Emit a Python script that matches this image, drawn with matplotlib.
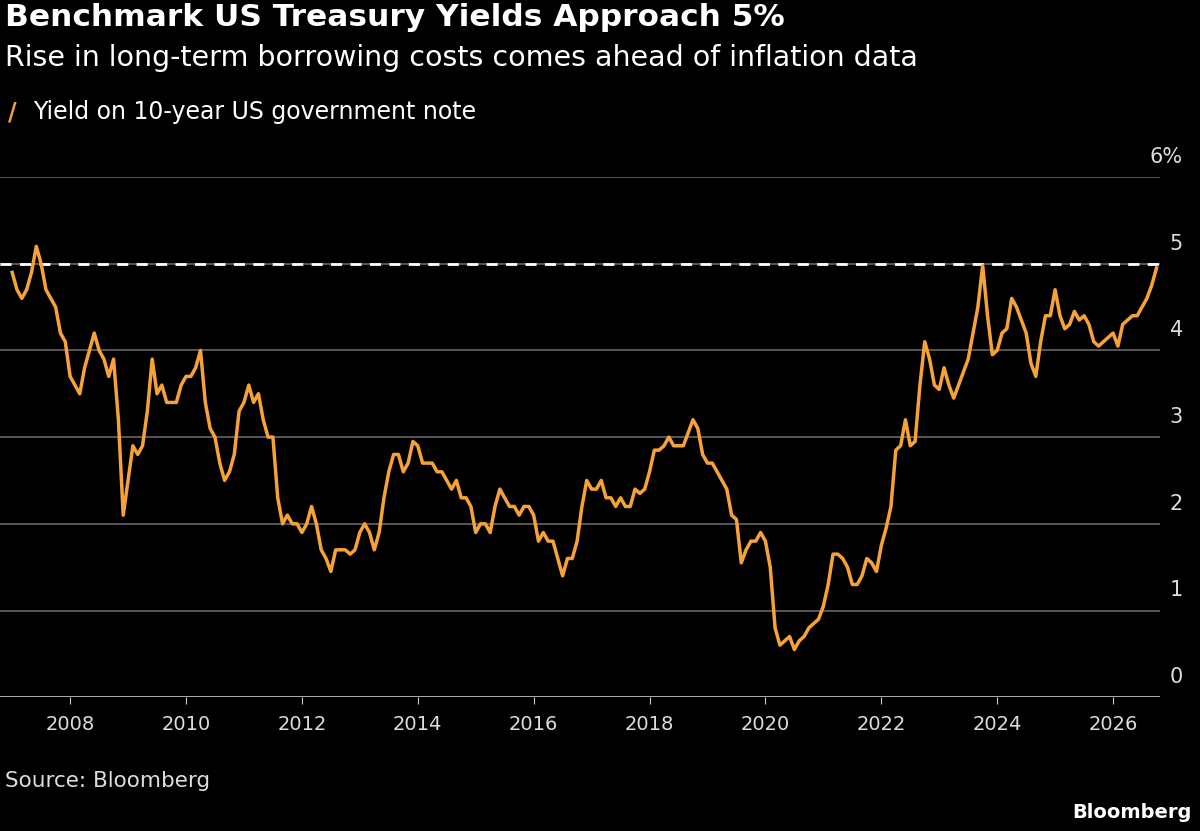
import matplotlib
matplotlib.use("Agg")
import matplotlib.pyplot as plt
import numpy as np

y2007=[4.9,4.7,4.6,4.7,4.9,5.2,5.0,4.7,4.6,4.5,4.2,4.1]
y2008=[3.7,3.6,3.5,3.8,4.0,4.2,4.0,3.9,3.7,3.9,3.2,2.1]
y2009=[2.5,2.9,2.8,2.9,3.3,3.9,3.5,3.6,3.4,3.4,3.4,3.6]
y2010=[3.7,3.7,3.8,4.0,3.4,3.1,3.0,2.7,2.5,2.6,2.8,3.3]
y2011=[3.4,3.6,3.4,3.5,3.2,3.0,3.0,2.3,2.0,2.1,2.0,2.0]
y2012=[1.9,2.0,2.2,2.0,1.7,1.6,1.45,1.7,1.7,1.7,1.65,1.7]
y2013=[1.9,2.0,1.9,1.7,1.9,2.3,2.6,2.8,2.8,2.6,2.7,2.95]
y2014=[2.9,2.7,2.7,2.7,2.6,2.6,2.5,2.4,2.5,2.3,2.3,2.2]
y2015=[1.9,2.0,2.0,1.9,2.2,2.4,2.3,2.2,2.2,2.1,2.2,2.2]
y2016=[2.1,1.8,1.9,1.8,1.8,1.6,1.4,1.6,1.6,1.8,2.2,2.5]
y2017=[2.4,2.4,2.5,2.3,2.3,2.2,2.3,2.2,2.2,2.4,2.35,2.4]
y2018=[2.6,2.85,2.85,2.9,3.0,2.9,2.9,2.9,3.05,3.2,3.1,2.8]
y2019=[2.7,2.7,2.6,2.5,2.4,2.1,2.05,1.55,1.7,1.8,1.8,1.9]
y2020=[1.8,1.5,0.8,0.6,0.65,0.7,0.55,0.65,0.7,0.8,0.85,0.9]
y2021=[1.05,1.3,1.65,1.65,1.6,1.5,1.3,1.3,1.4,1.6,1.55,1.45]
y2022=[1.75,1.95,2.2,2.85,2.9,3.2,2.9,2.95,3.6,4.1,3.9,3.6]
y2023=[3.55,3.8,3.6,3.45,3.6,3.75,3.9,4.2,4.5,4.98,4.4,3.95]
y2024=[4.0,4.2,4.25,4.6,4.5,4.35,4.2,3.85,3.7,4.1,4.4,4.4]
y2025=[4.7,4.4,4.25,4.3,4.45,4.35,4.4,4.3,4.1,4.05,4.1,4.15]
y2026=[4.2,4.05,4.3,4.35,4.4,4.4,4.5,4.6,4.75,4.95]
values=np.array(y2007+y2008+y2009+y2010+y2011+y2012+y2013+y2014+y2015+y2016+
                y2017+y2018+y2019+y2020+y2021+y2022+y2023+y2024+y2025+y2026)
dates=2007.0+np.arange(len(values))/12.0
xticks=list(range(2008,2027,2))
yticks=[0,1,2,3,4,5,6]

BG="#000000"; OR="#f6a237"
fig=plt.figure(figsize=(12,8.31),dpi=100,facecolor=BG)
ax=fig.add_axes([0.0,0.161,0.9667,0.626],facecolor=BG)
ax.set_xlim(2006.79,2006.79+1160/57.94)
ax.set_ylim(0,6)
for t in yticks[1:]:
    ax.axhline(t,color="#666666",lw=1.2,zorder=1)
ax.axhline(0,color="#cccccc",lw=1.2,zorder=1)
ax.axhline(5,color="white",lw=2,ls=(0,(4,3)),zorder=2)
ax.plot(dates,values,color=OR,lw=2.5,zorder=3)
for s in ax.spines.values(): s.set_visible(False)
ax.set_yticks([])
ax.set_xticks(xticks)
ax.set_xticklabels([str(x) for x in xticks],color="#dddddd",fontsize=14)
ax.tick_params(axis="x",colors="#cccccc",length=5,pad=8,labelcolor="#dddddd")
for t in yticks:
    lab=f"{t}%" if t==6 else str(t)
    fig.text(1183/1200,(831-(697-t*86.7)+10)/831,lab,color="#dddddd",fontsize=15,ha="right",va="bottom")
fig.text(5/1200,1-18/831,"Benchmark US Treasury Yields Approach 5%",color="white",fontsize=22.5,fontweight="bold",va="center")
fig.text(5/1200,1-58/831,"Rise in long-term borrowing costs comes ahead of inflation data",color="white",fontsize=20.5,va="center")
fig.text(8/1200,1-112/831,"/",color=OR,fontsize=17,fontweight="bold",va="center")
fig.text(33/1200,1-112/831,"Yield on 10-year US government note",color="white",fontsize=17,va="center")
fig.text(5/1200,1-781/831,"Source: Bloomberg",color="#dddddd",fontsize=15.5,va="center")
fig.text(1192/1200,1-812/831,"Bloomberg",color="white",fontsize=14,fontweight="bold",va="center",ha="right")
fig.savefig("out.png",dpi=100,facecolor=BG)
